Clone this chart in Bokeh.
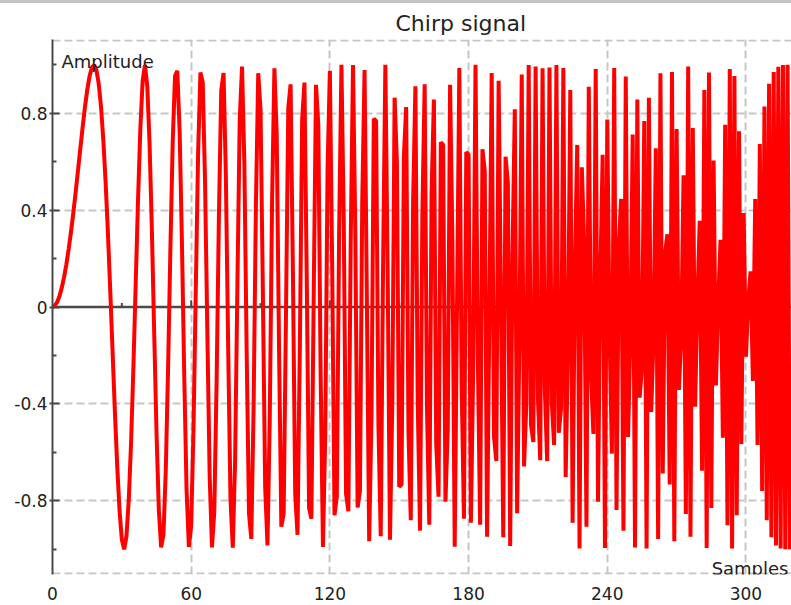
from bokeh.plotting import figure
from bokeh.models import (Range1d, FixedTicker, Span, Label, NumeralTickFormatter,
                          Title, Div)
from bokeh.layouts import column
from bokeh.embed import file_html
from bokeh.resources import INLINE

# ---------------- data ----------------
samples = list(range(320))
amplitude = [
    0.0, 0.005, 0.020, 0.044, 0.079, 0.123, 0.176, 0.239, 0.310, 0.388,
    0.472, 0.561, 0.651, 0.739, 0.822, 0.894, 0.951, 0.988, 0.999, 0.978,
    0.921, 0.825, 0.687, 0.511, 0.300, 0.064, -0.186, -0.433, -0.658, -0.840,
    -0.960, -1.000, -0.946, -0.795, -0.557, -0.248, 0.098, 0.442, 0.735, 0.934,
    0.999, 0.911, 0.673, 0.314, -0.108, -0.519, -0.838, -0.992, -0.940, -0.676,
    -0.253, 0.239, 0.680, 0.953, 0.975, 0.725, 0.263, -0.286, -0.755, -0.990,
    -0.901, -0.503, 0.079, 0.640, 0.968, 0.926, 0.515, -0.113, -0.702, -0.992,
    -0.843, -0.305, 0.383, 0.894, 0.966, 0.544, -0.167, -0.795, -0.993, -0.632,
    0.098, 0.777, 0.992, 0.593, -0.186, -0.851, -0.957, -0.415, 0.420, 0.965,
    0.816, 0.064, -0.742, -0.984, -0.455, 0.442, 0.985, 0.712, -0.167, -0.907,
    -0.854, -0.034, 0.822, 0.919, 0.147, -0.771, -0.940, -0.171, 0.774, 0.926,
    0.108, -0.830, -0.874, 0.044, 0.917, 0.752, -0.281, -0.990, -0.524, 0.577,
    0.975, 0.162, -0.859, -0.783, 0.310, 1.000, 0.356, -0.771, -0.843, 0.258,
    0.999, 0.314, -0.827, -0.759, 0.437, 0.978, 0.030, -0.967, -0.455, 0.777,
    0.768, -0.486, -0.946, 0.162, 1.000, 0.142, -0.960, -0.397, 0.864, 0.593,
    -0.742, -0.732, 0.620, 0.825, -0.515, -0.880, 0.437, 0.911, -0.393, -0.923,
    0.383, 0.919, -0.411, -0.899, 0.472, 0.856, -0.565, -0.783, 0.680, 0.669,
    -0.804, -0.503, 0.917, 0.277, -0.989, 0.005, 0.986, -0.324, -0.874, 0.640,
    0.628, -0.890, -0.253, 1.000, -0.205, -0.899, 0.651, 0.561, -0.948, -0.034,
    0.966, -0.536, -0.636, 0.934, 0.030, -0.950, 0.620, 0.511, -0.986, 0.220,
    0.816, -0.851, -0.137, 0.959, -0.658, -0.397, 0.999, -0.486, -0.557, 0.993,
    -0.374, -0.632, 0.985, -0.342, -0.636, 0.988, -0.393, -0.569, 0.999, -0.519,
    -0.420, 0.986, -0.702, -0.171, 0.896, -0.890, 0.176, 0.669, -0.997, 0.577,
    0.263, -0.907, 0.909, -0.286, -0.524, 0.982, -0.804, 0.123, 0.628, -0.995,
    0.774, -0.113, -0.605, 0.986, -0.838, 0.258, 0.446, -0.923, 0.951, -0.536,
    -0.118, 0.712, -0.993, 0.856, -0.374, -0.248, 0.768, -0.997, 0.864, -0.433,
    -0.137, 0.655, -0.957, 0.965, -0.687, 0.220, 0.300, -0.732, 0.970, -0.967,
    0.735, -0.342, -0.118, 0.544, -0.854, 0.993, -0.948, 0.739, -0.411, 0.025,
    0.356, -0.676, 0.896, -0.995, 0.968, -0.830, 0.605, -0.324, 0.020, 0.277,
    -0.540, 0.752, -0.901, 0.982, -0.997, 0.953, -0.859, 0.725, -0.565, 0.388,
    -0.205, 0.025, 0.147, -0.305, 0.446, -0.569, 0.673, -0.759, 0.827, -0.880,
    0.921, -0.950, 0.970, -0.984, 0.992, -0.997, 0.999, -1.000, 1.000, -1.000,
]

x_tick_values = [0, 60, 120, 180, 240, 300]
x_grid_values = [60, 120, 180, 240, 300]
y_tick_values = [-0.8, -0.4, 0, 0.4, 0.8]
y_minor_values = [-1.0, -0.6, -0.2, 0.2, 0.6, 1.0]
y_grid_values = [-1.1, -0.8, -0.4, 0.4, 0.8, 1.1]
zero_major_ticks = [60, 120, 180, 240, 300]
zero_minor_ticks = [30, 90, 150, 210, 270]

title_text = "Chirp signal"
y_title = "Amplitude"
x_title = "Samples"

FONT = "DejaVu Sans"
AXIS_COLOR = "#4a4a4a"
GRID_COLOR = "#c6c6c6"
TEXT_COLOR = "#222222"

W, H = 791, 602

p = figure(width=W, height=H, output_backend="svg", toolbar_location=None,
           x_range=Range1d(0, 319.7), y_range=Range1d(-1.104, 1.104),
           min_border_left=52, min_border_right=0, min_border_top=36, min_border_bottom=31,
           margin=0)
p.title = Title(text=title_text, align="left", offset=343, standoff=8,
                text_font=FONT, text_font_size="22px", text_font_style="normal",
                text_color=TEXT_COLOR)
p.outline_line_color = None
p.background_fill_color = "white"
p.border_fill_color = "white"

# x axis: labels only
xax = p.xaxis[0]
xax.ticker = FixedTicker(ticks=x_tick_values)
xax.axis_line_color = None
xax.major_tick_line_color = None
xax.minor_tick_line_color = None
xax.major_tick_out = 0
xax.major_tick_in = 0
xax.major_label_standoff = 12
xax.major_label_text_font = FONT
xax.major_label_text_font_size = "17px"
xax.major_label_text_color = TEXT_COLOR

# y axis
yax = p.yaxis[0]
yax.ticker = FixedTicker(ticks=y_tick_values, minor_ticks=y_minor_values)
yax.formatter = NumeralTickFormatter(format="0.[0]")
yax.axis_line_color = AXIS_COLOR
yax.axis_line_width = 2
yax.major_tick_line_color = AXIS_COLOR
yax.major_tick_line_width = 2
yax.major_tick_in = 7
yax.major_tick_out = 3
yax.minor_tick_line_color = AXIS_COLOR
yax.minor_tick_line_width = 2
yax.minor_tick_in = 4
yax.minor_tick_out = 0
yax.major_label_standoff = 2
yax.major_label_text_font = FONT
yax.major_label_text_font_size = "17px"
yax.major_label_text_color = TEXT_COLOR

# grids
p.xgrid.ticker = FixedTicker(ticks=x_grid_values)
p.ygrid.ticker = FixedTicker(ticks=y_grid_values)
for g in (p.xgrid[0], p.ygrid[0]):
    g.grid_line_color = GRID_COLOR
    g.grid_line_width = 2
    g.grid_line_dash = "8 4"

# zero axis line under the signal
p.add_layout(Span(location=0, dimension="width", line_color=AXIS_COLOR,
                  line_width=2.5, level="underlay"))
p.segment(x0=zero_major_ticks, y0=[0] * len(zero_major_ticks), x1=zero_major_ticks,
          y1=[0.028] * len(zero_major_ticks), line_color=AXIS_COLOR, line_width=2)
p.segment(x0=zero_minor_ticks, y0=[0] * len(zero_minor_ticks), x1=zero_minor_ticks,
          y1=[0.016] * len(zero_minor_ticks), line_color=AXIS_COLOR, line_width=2)

# signal
p.line(samples, amplitude, line_color="#ff0000", line_width=4)

# in-plot texts (screen units measured from the frame's lower-left corner)
p.add_layout(Label(x=9, y=513.5, x_units="screen", y_units="screen", text=y_title,
                   text_font=FONT, text_font_size="18px", text_color=TEXT_COLOR,
                   text_baseline="alphabetic", text_align="left"))
p.add_layout(Label(x=736, y=6, x_units="screen", y_units="screen", text=x_title,
                   text_font=FONT, text_font_size="18px", text_color=TEXT_COLOR,
                   text_baseline="alphabetic", text_align="right"))

top_bar = Div(text="", width=W, height=3, margin=0,
              styles={"background-color": "#c4c4c4"})
layout = column(top_bar, p, spacing=0, margin=0)

open("out.html", "w").write(file_html(layout, INLINE))
